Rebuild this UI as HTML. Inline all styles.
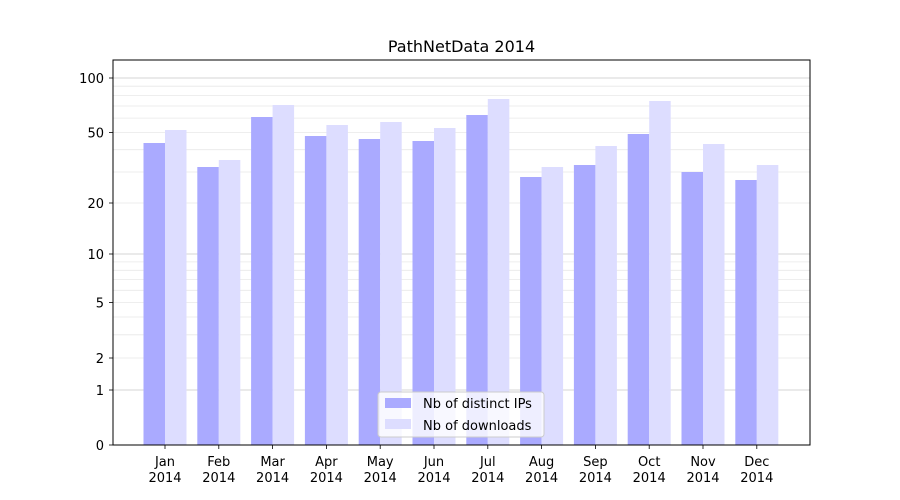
<!DOCTYPE html>
<html><head><meta charset="utf-8"><style>body{margin:0;background:#fff}svg{display:block}text{font-family:"DejaVu Sans","Liberation Sans",sans-serif;fill:#000}</style></head>
<body>
<svg width="900" height="500" viewBox="0 0 900 500" xmlns="http://www.w3.org/2000/svg">
<rect width="900" height="500" fill="#fff"/>
<g stroke="#e8e8e8" stroke-width="0.8">
<line x1="113" x2="810" y1="358" y2="358"/><line x1="113" x2="810" y1="334.8" y2="334.8"/><line x1="113" x2="810" y1="317" y2="317"/><line x1="113" x2="810" y1="302.5" y2="302.5"/><line x1="113" x2="810" y1="290.3" y2="290.3"/><line x1="113" x2="810" y1="279.6" y2="279.6"/><line x1="113" x2="810" y1="270.3" y2="270.3"/><line x1="113" x2="810" y1="261.9" y2="261.9"/>
<line x1="113" x2="810" y1="203" y2="203"/><line x1="113" x2="810" y1="172" y2="172"/><line x1="113" x2="810" y1="149.7" y2="149.7"/><line x1="113" x2="810" y1="132.5" y2="132.5"/><line x1="113" x2="810" y1="118.1" y2="118.1"/><line x1="113" x2="810" y1="106" y2="106"/><line x1="113" x2="810" y1="95.6" y2="95.6"/><line x1="113" x2="810" y1="86.2" y2="86.2"/>
</g>
<g stroke="#c8c8c8" stroke-width="0.8">
<line x1="113" x2="810" y1="390" y2="390"/><line x1="113" x2="810" y1="254" y2="254"/><line x1="113" x2="810" y1="78" y2="78"/>
</g>
<g fill="#aaaaff">
<rect x="143.5" y="143" width="21.5" height="302"/>
<rect x="197.3" y="167" width="21.5" height="278"/>
<rect x="251.1" y="117" width="21.5" height="328"/>
<rect x="304.9" y="136" width="21.5" height="309"/>
<rect x="358.7" y="139" width="21.5" height="306"/>
<rect x="412.5" y="141" width="21.5" height="304"/>
<rect x="466.3" y="115" width="21.5" height="330"/>
<rect x="520.1" y="177" width="21.5" height="268"/>
<rect x="573.9" y="165" width="21.5" height="280"/>
<rect x="627.7" y="134" width="21.5" height="311"/>
<rect x="681.5" y="172" width="21.5" height="273"/>
<rect x="735.3" y="180" width="21.5" height="265"/>
</g>
<g fill="#ddddff">
<rect x="165" y="130" width="21.5" height="315"/>
<rect x="218.8" y="160" width="21.5" height="285"/>
<rect x="272.6" y="105" width="21.5" height="340"/>
<rect x="326.4" y="125" width="21.5" height="320"/>
<rect x="380.2" y="122" width="21.5" height="323"/>
<rect x="434" y="128" width="21.5" height="317"/>
<rect x="487.8" y="99" width="21.5" height="346"/>
<rect x="541.6" y="167" width="21.5" height="278"/>
<rect x="595.4" y="146" width="21.5" height="299"/>
<rect x="649.2" y="101" width="21.5" height="344"/>
<rect x="703" y="144" width="21.5" height="301"/>
<rect x="756.8" y="165" width="21.5" height="280"/>
</g>
<rect x="113" y="60" width="697" height="385" fill="none" stroke="#000" stroke-width="1"/>
<g stroke="#000" stroke-width="0.8">
<line x1="109" x2="113" y1="445" y2="445"/><line x1="109" x2="113" y1="390" y2="390"/><line x1="109" x2="113" y1="358" y2="358"/><line x1="109" x2="113" y1="302.5" y2="302.5"/><line x1="109" x2="113" y1="254" y2="254"/><line x1="109" x2="113" y1="203" y2="203"/><line x1="109" x2="113" y1="132.5" y2="132.5"/><line x1="109" x2="113" y1="78" y2="78"/>
<line x1="165" x2="165" y1="445" y2="449"/><line x1="218.8" x2="218.8" y1="445" y2="449"/><line x1="272.6" x2="272.6" y1="445" y2="449"/><line x1="326.4" x2="326.4" y1="445" y2="449"/><line x1="380.2" x2="380.2" y1="445" y2="449"/><line x1="434" x2="434" y1="445" y2="449"/><line x1="487.8" x2="487.8" y1="445" y2="449"/><line x1="541.6" x2="541.6" y1="445" y2="449"/><line x1="595.4" x2="595.4" y1="445" y2="449"/><line x1="649.2" x2="649.2" y1="445" y2="449"/><line x1="703" x2="703" y1="445" y2="449"/><line x1="756.8" x2="756.8" y1="445" y2="449"/>
</g>
<g font-size="13" text-anchor="end">
<text x="104" y="450">0</text><text x="104" y="395">1</text><text x="104" y="363">2</text><text x="104" y="307.5">5</text><text x="104" y="259">10</text><text x="104" y="208">20</text><text x="104" y="137.5">50</text><text x="104" y="83">100</text>
</g>
<text x="461.5" y="52" font-size="16" text-anchor="middle">PathNetData 2014</text>
<g font-size="13" text-anchor="middle">
<text x="165" y="466">Jan</text><text x="165" y="482">2014</text>
<text x="218.8" y="466">Feb</text><text x="218.8" y="482">2014</text>
<text x="272.6" y="466">Mar</text><text x="272.6" y="482">2014</text>
<text x="326.4" y="466">Apr</text><text x="326.4" y="482">2014</text>
<text x="380.2" y="466">May</text><text x="380.2" y="482">2014</text>
<text x="434" y="466">Jun</text><text x="434" y="482">2014</text>
<text x="487.8" y="466">Jul</text><text x="487.8" y="482">2014</text>
<text x="541.6" y="466">Aug</text><text x="541.6" y="482">2014</text>
<text x="595.4" y="466">Sep</text><text x="595.4" y="482">2014</text>
<text x="649.2" y="466">Oct</text><text x="649.2" y="482">2014</text>
<text x="703" y="466">Nov</text><text x="703" y="482">2014</text>
<text x="756.8" y="466">Dec</text><text x="756.8" y="482">2014</text>
</g>
<rect x="378" y="392" width="166" height="45" rx="3" fill="#fff" fill-opacity="0.8" stroke="#ccc"/>
<rect x="385" y="398" width="26" height="10" fill="#aaaaff"/>
<rect x="385" y="419" width="26" height="10" fill="#ddddff"/>
<text x="423" y="408" font-size="13">Nb of distinct IPs</text>
<text x="423" y="430" font-size="13">Nb of downloads</text>
</svg>
</body></html>
